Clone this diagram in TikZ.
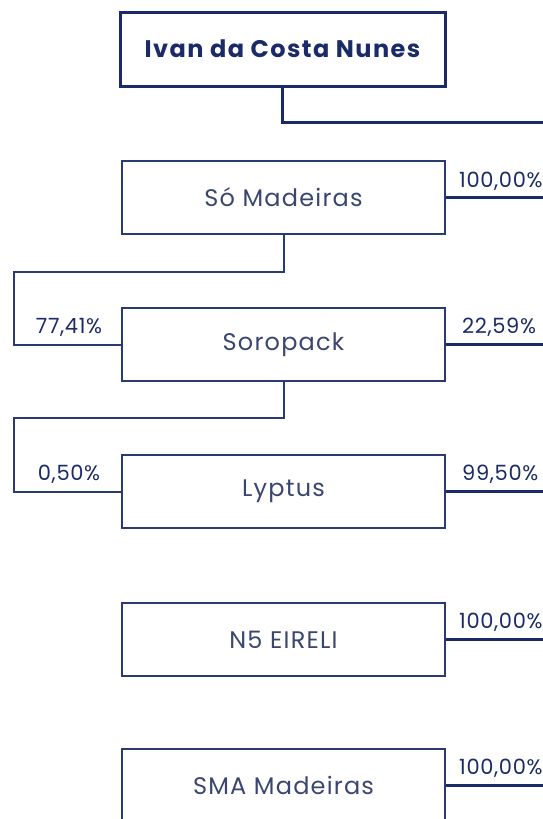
\documentclass[tikz,border=0pt]{standalone}
\usepackage{fontspec}
\setmainfont{Poppins}
\definecolor{navy}{HTML}{1B2A68}
\definecolor{boxline}{HTML}{2A3A72}
\definecolor{boxtext}{HTML}{3A466F}
\begin{document}
\begin{tikzpicture}[x=1pt,y=-1pt,
    company/.style={draw=boxline,line width=1.9pt,minimum width=323pt,minimum height=73pt,
        inner sep=0pt,text=boxtext,font=\fontsize{24}{28}\selectfont\addfontfeature{LetterSpace=5}},
    owner/.style={company,draw=navy,line width=3pt,minimum width=325pt,minimum height=74pt,
        text=navy,font=\fontsize{24}{28}\selectfont\bfseries\addfontfeature{LetterSpace=6}},
    share/.style={text=navy,inner sep=0pt,font=\fontsize{21}{24}\selectfont\addfontfeature{LetterSpace=3}},
    holds/.style={draw=navy,line width=3pt},
    link/.style={draw=boxline,line width=2pt}]
    \useasboundingbox (0,0) rectangle (543,819);
    \clip (0,0) rectangle (543,819);
    % companies
    \node[owner] (ivan) at (282.5,49) {Ivan da Costa Nunes};
    \node[company] (so) at (283.5,197.5) {Só Madeiras};
    \node[company] (soro) at (283.5,344.5) {Soropack};
    \node[company] (lyptus) at (283.5,491.5) {Lyptus};
    \node[company] (n5) at (283.5,639.5) {N5 EIRELI};
    \node[company] (sma) at (283.5,785.5) {SMA Madeiras};
    % free ends and bends
    \coordinate (ivanend) at (550,122);
    \coordinate (soend) at (550,197.5);
    \coordinate (soroend) at (550,344.5);
    \coordinate (lyptusend) at (550,491.5);
    \coordinate (n5end) at (550,639.5);
    \coordinate (smaend) at (550,785.5);
    \coordinate (bendso) at (14,272);
    \coordinate (bendsoro) at (14,418);
    % lines
    \draw[holds] (ivan.south) |- (ivanend);
    \draw[holds] (so.east) -- (soend);
    \draw[holds] (soro.east) -- (soroend);
    \draw[holds] (lyptus.east) -- (lyptusend);
    \draw[holds] (n5.east) -- (n5end);
    \draw[holds] (sma.east) -- (smaend);
    \draw[link] (so.south) |- (bendso) |- (soro.west);
    \draw[link] (soro.south) |- (bendsoro) |- (lyptus.west);
    % percentages
    \node[share,anchor=west] (pso) at (459,181) {100,00\%};
    \node[share,anchor=west] (psoro) at (462,327) {22,59\%};
    \node[share] (psoroleft) at (69,327) {77,41\%};
    \node[share,anchor=west] (plyptus) at (462,474) {99,50\%};
    \node[share] (plyptusleft) at (69,474) {0,50\%};
    \node[share,anchor=west] (pn5) at (459,622) {100,00\%};
    \node[share,anchor=west] (psma) at (459,768) {100,00\%};
\end{tikzpicture}
\end{document}
